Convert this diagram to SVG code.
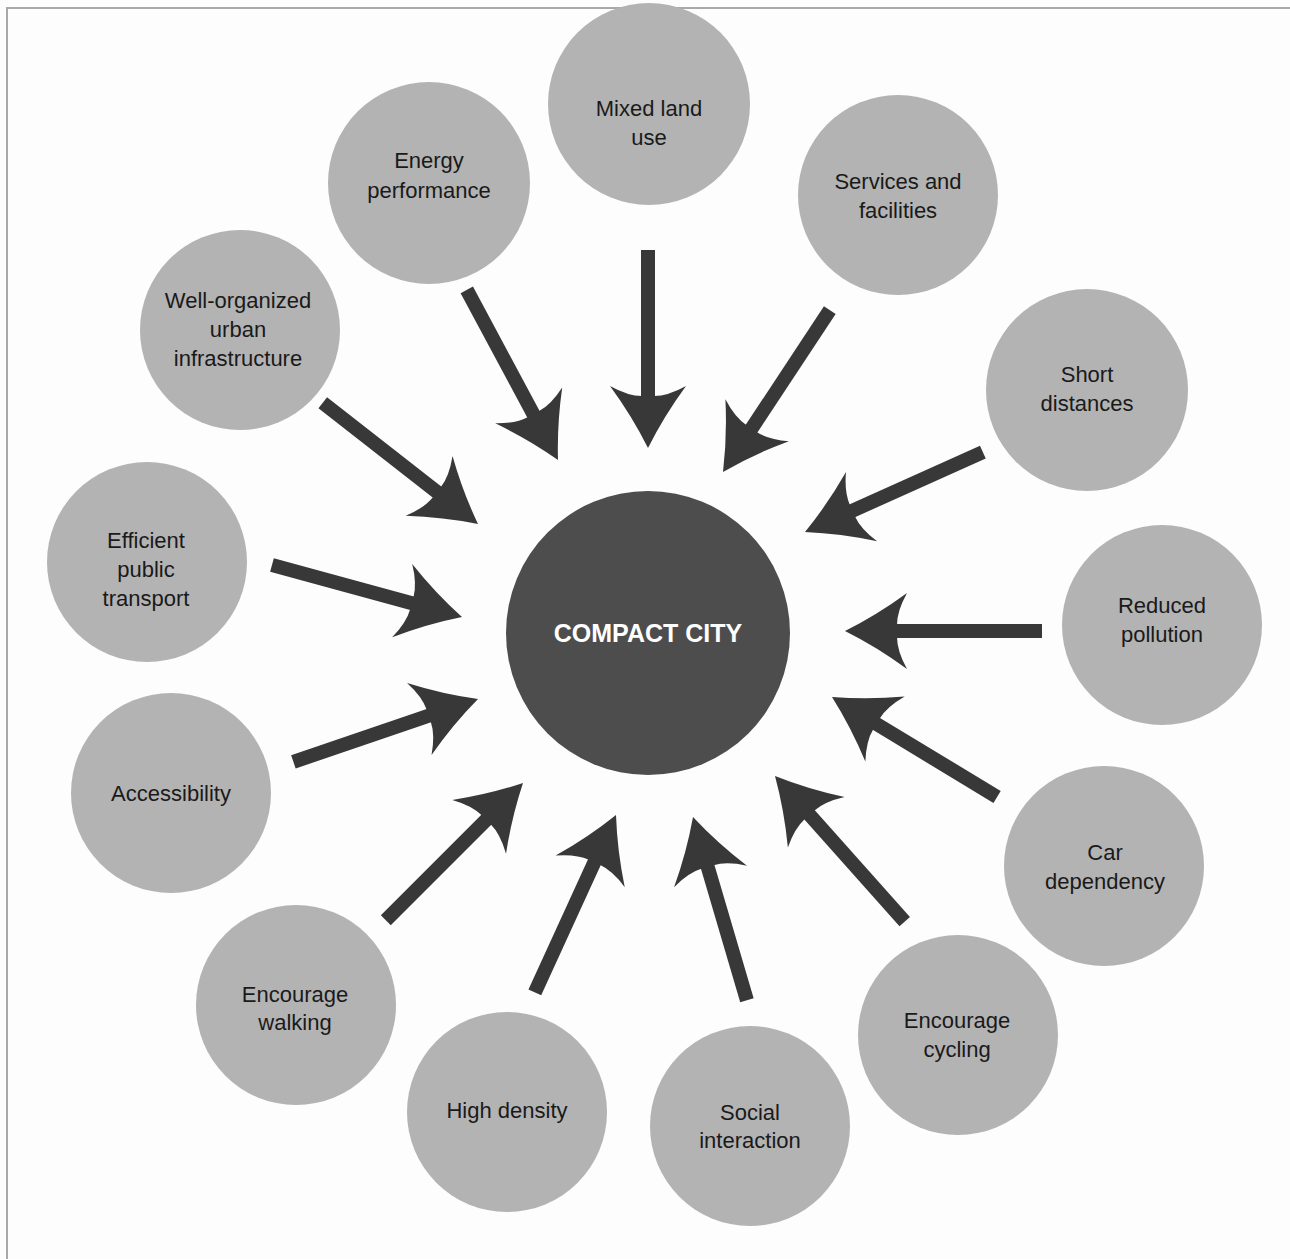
<svg xmlns="http://www.w3.org/2000/svg" xmlns:xlink="http://www.w3.org/1999/xlink" width="1290" height="1259" viewBox="0 0 1290 1259">
<style>
.node{fill:#b3b3b3}
.lbl{font-family:"Liberation Sans",Arial,sans-serif;font-size:22px;fill:#1a1a1a;text-anchor:middle}
.center{fill:#4d4d4d}
.ctext{font-family:"Liberation Sans",Arial,sans-serif;font-size:25px;font-weight:bold;fill:#ffffff;text-anchor:middle}
.arrow{fill:#383838}
.frame{stroke:#a8a8a8;stroke-width:2;fill:none}
</style>
<defs>
<path id="head" d="M0,0 Q-32,-16 -62,-38 Q-52,-20 -52,-6 L-52,6 Q-52,20 -62,38 Q-32,16 0,0 Z"/>
</defs>
<rect x="0" y="0" width="1290" height="1259" fill="#fdfdfd"/>
<path class="frame" d="M7,1259 L7,8 L1290,8"/>

<g id="connectors" class="arrow">
<g transform="translate(648,448) rotate(90)"><rect x="-198" y="-7" width="150" height="14"/><use xlink:href="#head"/></g>
<g transform="translate(558,460) rotate(61.8)"><rect x="-193" y="-7" width="145" height="14"/><use xlink:href="#head"/></g>
<g transform="translate(723,472) rotate(123.4)"><rect x="-194" y="-7" width="146" height="14"/><use xlink:href="#head"/></g>
<g transform="translate(478,524) rotate(38)"><rect x="-197" y="-7" width="149" height="14"/><use xlink:href="#head"/></g>
<g transform="translate(805,532) rotate(155.8)"><rect x="-195" y="-7" width="147" height="14"/><use xlink:href="#head"/></g>
<g transform="translate(462,617) rotate(15.3)"><rect x="-197" y="-7" width="149" height="14"/><use xlink:href="#head"/></g>
<g transform="translate(845,631) rotate(180)"><rect x="-197" y="-7" width="149" height="14"/><use xlink:href="#head"/></g>
<g transform="translate(478,699) rotate(-18.8)"><rect x="-195" y="-7" width="147" height="14"/><use xlink:href="#head"/></g>
<g transform="translate(832,697) rotate(-148.8)"><rect x="-193" y="-7" width="145" height="14"/><use xlink:href="#head"/></g>
<g transform="translate(523,783) rotate(-45)"><rect x="-194" y="-7" width="146" height="14"/><use xlink:href="#head"/></g>
<g transform="translate(775,776) rotate(-131.7)"><rect x="-195" y="-7" width="147" height="14"/><use xlink:href="#head"/></g>
<g transform="translate(616,815) rotate(-65.4)"><rect x="-195" y="-7" width="147" height="14"/><use xlink:href="#head"/></g>
<g transform="translate(693,817) rotate(-106.4)"><rect x="-191" y="-7" width="143" height="14"/><use xlink:href="#head"/></g>
</g>

<g id="compact-city"><circle class="center" cx="648" cy="633" r="142"/><text class="ctext" x="648" y="642">COMPACT CITY</text></g>

<g id="mixed-land-use"><circle class="node" cx="649" cy="104" r="101"/><text class="lbl" x="649" y="116">Mixed land</text><text class="lbl" x="649" y="145">use</text></g>
<g id="energy-performance"><circle class="node" cx="429" cy="183" r="101"/><text class="lbl" x="429" y="168">Energy</text><text class="lbl" x="429" y="198">performance</text></g>
<g id="services-facilities"><circle class="node" cx="898" cy="195" r="100"/><text class="lbl" x="898" y="189">Services and</text><text class="lbl" x="898" y="218">facilities</text></g>
<g id="well-organized"><circle class="node" cx="240" cy="330" r="100"/><text class="lbl" x="238" y="308">Well-organized</text><text class="lbl" x="238" y="337">urban</text><text class="lbl" x="238" y="366">infrastructure</text></g>
<g id="short-distances"><circle class="node" cx="1087" cy="390" r="101"/><text class="lbl" x="1087" y="382">Short</text><text class="lbl" x="1087" y="411">distances</text></g>
<g id="efficient-public-transport"><circle class="node" cx="147" cy="562" r="100"/><text class="lbl" x="146" y="548">Efficient</text><text class="lbl" x="146" y="577">public</text><text class="lbl" x="146" y="606">transport</text></g>
<g id="reduced-pollution"><circle class="node" cx="1162" cy="625" r="100"/><text class="lbl" x="1162" y="613">Reduced</text><text class="lbl" x="1162" y="642">pollution</text></g>
<g id="accessibility"><circle class="node" cx="171" cy="793" r="100"/><text class="lbl" x="171" y="801">Accessibility</text></g>
<g id="car-dependency"><circle class="node" cx="1104" cy="866" r="100"/><text class="lbl" x="1105" y="860">Car</text><text class="lbl" x="1105" y="889">dependency</text></g>
<g id="encourage-walking"><circle class="node" cx="296" cy="1005" r="100"/><text class="lbl" x="295" y="1002">Encourage</text><text class="lbl" x="295" y="1030">walking</text></g>
<g id="encourage-cycling"><circle class="node" cx="958" cy="1035" r="100"/><text class="lbl" x="957" y="1028">Encourage</text><text class="lbl" x="957" y="1057">cycling</text></g>
<g id="high-density"><circle class="node" cx="507" cy="1112" r="100"/><text class="lbl" x="507" y="1118">High density</text></g>
<g id="social-interaction"><circle class="node" cx="750" cy="1126" r="100"/><text class="lbl" x="750" y="1120">Social</text><text class="lbl" x="750" y="1148">interaction</text></g>
</svg>
